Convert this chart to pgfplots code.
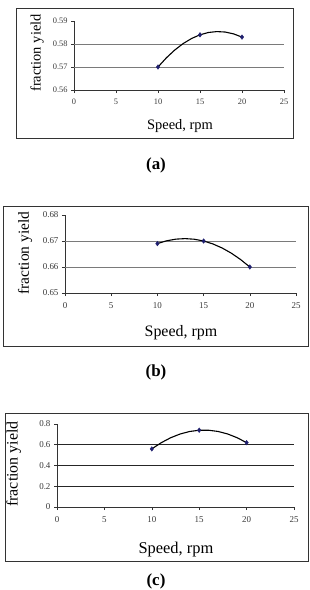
\documentclass[border=0pt]{standalone}
\usepackage{pgfplots}
\pgfplotsset{compat=1.18}
\usepackage{fontspec}
\setmainfont{Liberation Serif}

\definecolor{marknavy}{HTML}{1F1F6E}
\definecolor{gridgray}{HTML}{7A7A7A}
\definecolor{ticktext}{HTML}{3A3A3A}

% Measured yields at the three speeds
\pgfplotstableread{
rpm yield
10 0.570
15 0.584
20 0.583
}\yieldA
\pgfplotstableread{
rpm yield
10 0.669
15 0.670
20 0.660
}\yieldB
\pgfplotstableread{
rpm yield
10 0.56
15 0.74
20 0.62
}\yieldC

% Second-order trend lines through each set of points
\pgfplotstableread{
rpm yield
10 0.5700
11 0.5740
12 0.5774
13 0.5802
14 0.5824
15 0.5840
16 0.5850
17 0.5854
18 0.5852
19 0.5844
20 0.5830
}\trendA
\pgfplotstableread{
rpm yield
10 0.66900
11 0.67008
12 0.67072
13 0.67092
14 0.67068
15 0.67000
16 0.66888
17 0.66732
18 0.66532
19 0.66288
20 0.66000
}\trendB
\pgfplotstableread{
rpm yield
10 0.560
11 0.620
12 0.668
13 0.704
14 0.728
15 0.740
16 0.740
17 0.728
18 0.704
19 0.668
20 0.620
}\trendC

\pgfplotsset{
  panel/.style={
    scale only axis,
    anchor=south west,
    xmin=0, xmax=25,
    xtick={0,5,...,25},
    axis x line=bottom,
    axis y line=left,
    axis line style={-, black!80, line width=0.6bp},
    tick align=outside,
    major tick length=3bp,
    tick style={black!80, line width=0.6bp},
    clip=false,
    /pgf/number format/assume math mode=true,
    ticklabel style={text=ticktext},
    xtick pos=bottom, ytick pos=left,
    extra y tick labels={},
    extra y tick style={grid=major, major tick length=0pt},
    grid style={gridgray, line width=0.8bp},
    label style={text=black},
    xlabel={Speed, rpm},
    ylabel={fraction yield},
  },
  trend/.style={black, line width=1.1bp, no marks},
  pts/.style={only marks, mark=diamond*, mark size=2.3bp,
    mark options={fill=marknavy, draw=marknavy}},
}

\begin{document}
\begin{tikzpicture}
\useasboundingbox (0,0) rectangle (310bp,-590bp);

% ---- (a) ----
\draw[black!80, line width=0.8bp] (16bp,-8bp) rectangle (293bp,-138bp);
\begin{axis}[panel,
  at={(74bp,-90bp)}, width=210bp, height=69bp,
  ymin=0.56, ymax=0.59,
  ytick={0.56,0.57,0.58,0.59},
  extra y ticks={0.57,0.58},
  yticklabel style={/pgf/number format/.cd, fixed, precision=2, fixed zerofill},
  ticklabel style={font=\fontsize{8.4}{8.4}\selectfont},
  xticklabel style={yshift=-2bp},
  xlabel style={at={(axis description cs:0.505,-0.52)}, anchor=center, font=\fontsize{14.5}{14.5}\selectfont},
  ylabel style={at={(axis description cs:-0.176,0.536)}, anchor=center, font=\fontsize{14.5}{14.5}\selectfont},
]
\addplot[trend] table[x=rpm, y=yield] {\trendA};
\addplot[pts] table[x=rpm, y=yield] {\yieldA};
\end{axis}
\node[font=\bfseries\fontsize{17}{17}\selectfont] at (156bp,-165bp) {(a)};

% ---- (b) ----
\draw[black!80, line width=0.8bp] (3bp,-206bp) rectangle (308bp,-346bp);
\begin{axis}[panel,
  at={(65bp,-293bp)}, width=231bp, height=78bp,
  ymin=0.65, ymax=0.68,
  ytick={0.65,0.66,0.67,0.68},
  extra y ticks={0.66,0.67},
  yticklabel style={/pgf/number format/.cd, fixed, precision=2, fixed zerofill},
  ticklabel style={font=\fontsize{9}{9}\selectfont},
  xticklabel style={yshift=-3bp},
  xlabel style={at={(axis description cs:0.502,-0.513)}, anchor=center, font=\fontsize{16}{16}\selectfont},
  ylabel style={at={(axis description cs:-0.173,0.513)}, anchor=center, font=\fontsize{15.5}{15.5}\selectfont},
]
\addplot[trend] table[x=rpm, y=yield] {\trendB};
\addplot[pts] table[x=rpm, y=yield] {\yieldB};
\end{axis}
\node[font=\bfseries\fontsize{17}{17}\selectfont] at (156bp,-372bp) {(b)};

% ---- (c) ----
\draw[black!80, line width=0.8bp] (5bp,-413bp) rectangle (308bp,-561bp);
\begin{axis}[panel,
  at={(57bp,-507bp)}, width=237bp, height=83bp,
  ymin=0, ymax=0.8,
  ytick={0,0.2,0.4,0.6,0.8},
  extra y ticks={0.2,0.4,0.6},
  grid style={black!85, line width=0.8bp},
  ticklabel style={font=\fontsize{9}{9}\selectfont},
  xticklabel style={yshift=-3bp},
  xlabel style={at={(axis description cs:0.502,-0.518)}, anchor=center, font=\fontsize{16.5}{16.5}\selectfont},
  ylabel style={at={(axis description cs:-0.183,0.518)}, anchor=center, font=\fontsize{16}{16}\selectfont},
]
\addplot[trend] table[x=rpm, y=yield] {\trendC};
\addplot[pts] table[x=rpm, y=yield] {\yieldC};
\end{axis}
\node[font=\bfseries\fontsize{17}{17}\selectfont] at (156bp,-581bp) {(c)};
\end{tikzpicture}
\end{document}
